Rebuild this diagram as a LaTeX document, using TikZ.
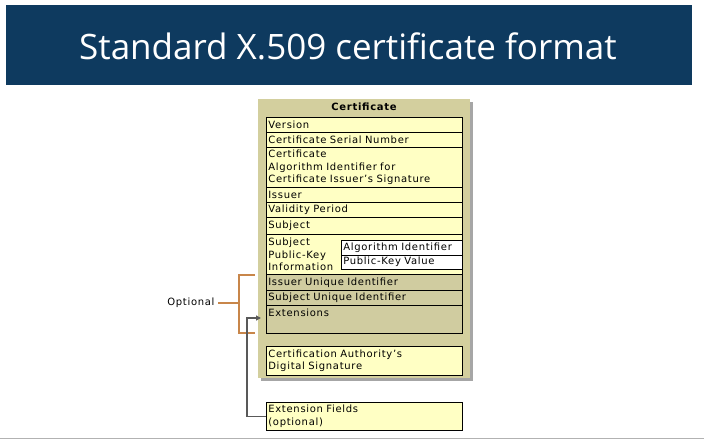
\documentclass[tikz,border=0pt]{standalone}
\usepackage{fontspec}
\setmainfont{DejaVu Sans}[LetterSpace=7]
\newfontfamily\titlefont{Open Sans}
\usetikzlibrary{positioning,arrows.meta}
\definecolor{banner}{HTML}{0E3A5F}
\definecolor{certback}{HTML}{D3CF9E}
\definecolor{rowfill}{HTML}{FFFFC4}
\definecolor{optfill}{HTML}{D0CCA0}
\definecolor{optbrace}{HTML}{C8864A}
\tikzset{
  field/.style={draw,fill=rowfill,anchor=north west,inner sep=2pt,text width=192pt,
    align=left,font=\fontsize{10}{12.5}\selectfont,line width=0.7pt},
  optfield/.style={field,fill=optfill},
  subfield/.style={draw,fill=white,anchor=north west,inner sep=2pt,text width=117pt,
    minimum height=14.5pt,align=left,font=\fontsize{10}{12.5}\selectfont,line width=0.7pt}
}
\begin{document}
\begin{tikzpicture}[x=1pt,y=-1pt]
    \useasboundingbox (0,0) rectangle (704,441);
    \fill [banner] (6,5) rectangle (692,85);
    \node [white,font=\titlefont\fontsize{35}{40}\selectfont] (title) at (348,46) {Standard X.509 certificate format};
    \draw [gray!60] (0,438) -- (704,438);

    % certificate frame
    \fill [gray!70] (261,102) rectangle (473,381);
    \fill [certback] (258,99) rectangle (470,378);
    \node [font=\bfseries\fontsize{10}{10}\selectfont] (cert) at (364,107) {Certificate};

    \node [field,minimum height=15pt] (version) at (266,117) {Version};
    \node [field,minimum height=15pt] (serial) at (266,132) {Certificate Serial Number};
    \node [field,minimum height=40pt] (algo) at (266,147) {Certificate\\Algorithm Identifier for\\Certificate Issuer’s Signature};
    \node [field,minimum height=15pt] (issuer) at (266,187) {Issuer};
    \node [field,minimum height=15pt] (validity) at (266,202) {Validity Period};
    \node [field,minimum height=17pt] (subject) at (266,217) {Subject};
    \node [field,minimum height=40pt] (spki) at (266,234) {Subject\\Public-Key\\Information};
    \node [subfield] (spkialgo) at (341,240) {Algorithm Identifier};
    \node [subfield] (spkival) at (341,254.5) {Public-Key Value};
    \node [optfield,minimum height=16pt] (issuerid) at (266,274) {Issuer Unique Identifier};
    \node [optfield,minimum height=15pt] (subjectid) at (266,290) {Subject Unique Identifier};
    \node [optfield,minimum height=28pt,text depth=13pt] (ext) at (266,305) {Extensions};
    \node [field,minimum height=29pt] (casig) at (266,346) {Certification Authority’s\\Digital Signature};

    \node [field,minimum height=28pt] (extfields) at (266,402) {Extension Fields\\(optional)};

    % optional bracket
    \node [font=\fontsize{10}{10}\selectfont,anchor=east] (optional) at (218,303) {Optional};
    \draw [optbrace,line width=1.2pt] (255,275) -- (239,275) -- (239,333) -- (255,333);
    \draw [optbrace,line width=1.2pt] (optional.east) -- (239,303);

    % extension arrow
    \draw [gray!70!black,line width=1.3pt,-{Triangle[length=5pt,width=5pt]}]
      (extfields.west) -| (247,318) -- (261,318);
\end{tikzpicture}
\end{document}
